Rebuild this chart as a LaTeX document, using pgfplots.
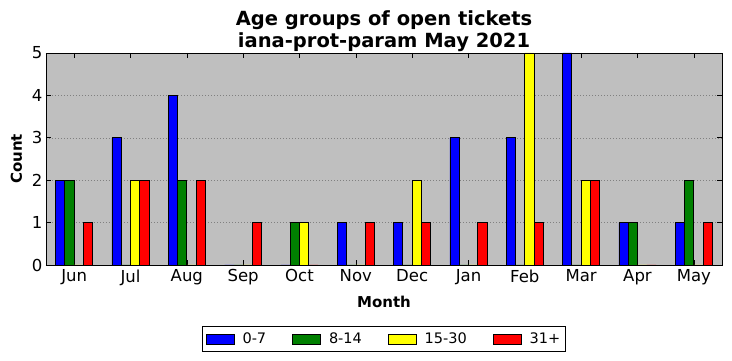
\documentclass[border=0pt]{standalone}
\usepackage{pgfplots}
\pgfplotsset{compat=1.18}
\usepackage{fontspec}
\setmainfont{DejaVu Sans}
\definecolor{bgc}{RGB}{191,191,191}
\definecolor{mgreen}{RGB}{0,128,0}
\definecolor{mblue}{RGB}{0,0,255}
\definecolor{myellow}{RGB}{255,255,0}
\definecolor{mred}{RGB}{255,0,0}
\begin{document}
\begin{tikzpicture}
\useasboundingbox (-46pt,-96pt) rectangle (686pt,265pt);
\begin{axis}[
  at={(0pt,0pt)}, anchor=south west,
  scale only axis, width=676pt, height=212pt,
  xmin=-0.5, xmax=11.5, ymin=0, ymax=5,
  axis background/.style={fill=bgc},
  ybar, bar width=0.165,
  xtick={0,...,11},
  xticklabels={Jun,Jul,Aug,Sep,Oct,Nov,Dec,Jan,Feb,Mar,Apr,May},
  ytick={0,1,2,3,4,5},
  tick align=inside, xtick pos=both, ytick pos=both,
  major tick length=5pt,
  tick style={black, line width=0.6pt},
  axis line style={black, line width=0.9pt},
  ymajorgrids,
  grid style={gray, dash pattern=on 1pt off 2pt, line width=0.5pt},
  /pgf/number format/assume math mode=true,
  ticklabel style={font=\fontsize{16.5}{19}\selectfont},
  xticklabel style={yshift=-1pt},
  xlabel={Month}, ylabel={Count},
  label style={font=\bfseries\fontsize{15}{17}\selectfont},
  xlabel style={yshift=-4pt},
  ylabel style={yshift=3pt},
  title={Age groups of open tickets\\iana-prot-param May 2021},
  title style={align=center, font=\bfseries\fontsize{19.5}{22}\selectfont, at={(0.5,1)}, anchor=south, yshift=-8pt},
  legend columns=4,
  legend style={at={(0.5,-0.2877)}, anchor=north, draw=black, line width=0.8pt,
    font=\fontsize{14.5}{17}\selectfont, inner xsep=3pt, inner ysep=4.5pt,
    /tikz/every odd column/.append style={column sep=6pt},
    /tikz/every even column/.append style={column sep=24pt}},
  legend image code/.code={\draw[#1, draw=black, line width=0.8pt] (0pt,-5pt) rectangle (28pt,5pt);},
  every axis plot/.append style={draw=black, line width=0.8pt},
]
\addplot[fill=mblue, bar shift=-0.2475] coordinates {(0,2)(1,3)(2,4)(3,0)(4,0)(5,1)(6,1)(7,3)(8,3)(9,5)(10,1)(11,1)};
\addplot[fill=mgreen, bar shift=-0.0825] coordinates {(0,2)(1,0)(2,2)(3,0)(4,1)(5,0)(6,0)(7,0)(8,0)(9,0)(10,1)(11,2)};
\addplot[fill=myellow, bar shift=0.0825] coordinates {(0,0)(1,2)(2,0)(3,0)(4,1)(5,0)(6,2)(7,0)(8,5)(9,2)(10,0)(11,0)};
\addplot[fill=mred, bar shift=0.2475] coordinates {(0,1)(1,2)(2,2)(3,1)(4,0)(5,1)(6,1)(7,1)(8,1)(9,2)(10,0)(11,1)};
\legend{0-7,8-14,15-30,31+}
\end{axis}
\end{tikzpicture}
\end{document}
